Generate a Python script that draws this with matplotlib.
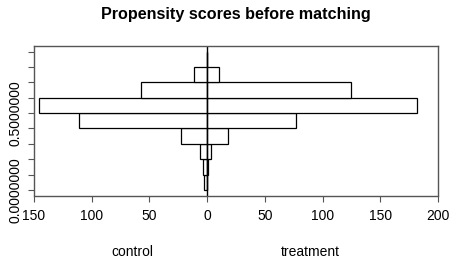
import matplotlib
matplotlib.use("Agg")
import matplotlib.pyplot as plt
import numpy as np

plt.rcParams['font.family'] = ['Liberation Sans', 'DejaVu Sans']

bin_edges = [0.0, 0.1, 0.2, 0.3, 0.4, 0.5, 0.6, 0.7, 0.8, 0.9]
control = [3, 4, 6, 23, 111, 146, 57, 11, 0]
treatment = [0, 1, 3, 18, 77, 182, 125, 10, 0]
x_ticks = [-150, -100, -50, 0, 50, 100, 150, 200]
x_tick_labels = ["150", "100", "50", "0", "50", "100", "150", "200"]
y_tick_labels = ["0.0000000", "", "", "", "", "0.5000000", "", "", "", ""]

fig = plt.figure(figsize=(4.49, 2.65), dpi=100)
ax = fig.add_axes([34/449, 1-195.5/265, 404/449, 149.5/265])

lefts = np.array(bin_edges[:-1])
h = np.diff(bin_edges)
ax.barh(lefts, [-c for c in control], height=h, left=0, align='edge',
        facecolor='white', edgecolor='black', linewidth=0.9)
ax.barh(lefts, treatment, height=h, left=0, align='edge',
        facecolor='white', edgecolor='black', linewidth=0.9)
ax.axvline(0, color='black', linewidth=1.0)

ax.set_xlim(-150, 200)
ax.set_ylim(-0.036, 0.936)
ax.set_xticks(x_ticks)
ax.set_xticklabels(x_tick_labels, fontsize=10)
ax.set_yticks(bin_edges)
ax.set_yticklabels(y_tick_labels, fontsize=10, rotation=90, va='center')
ax.tick_params(axis='x', direction='out', length=4, pad=6, color='#555555')
ax.tick_params(axis='y', direction='out', length=4, pad=4, color='#555555')
for s in ax.spines.values():
    s.set_color('#555555')
    s.set_linewidth(1.0)

fig.text(236/449, 1-14/265, "Propensity scores before matching",
         ha='center', va='center', fontsize=11.6, fontweight='bold')
fig.text(132/449, 1-252/265, "control", ha='center', va='center', fontsize=10)
fig.text(310/449, 1-252/265, "treatment", ha='center', va='center', fontsize=10)

fig.savefig("out.png", dpi=100)
